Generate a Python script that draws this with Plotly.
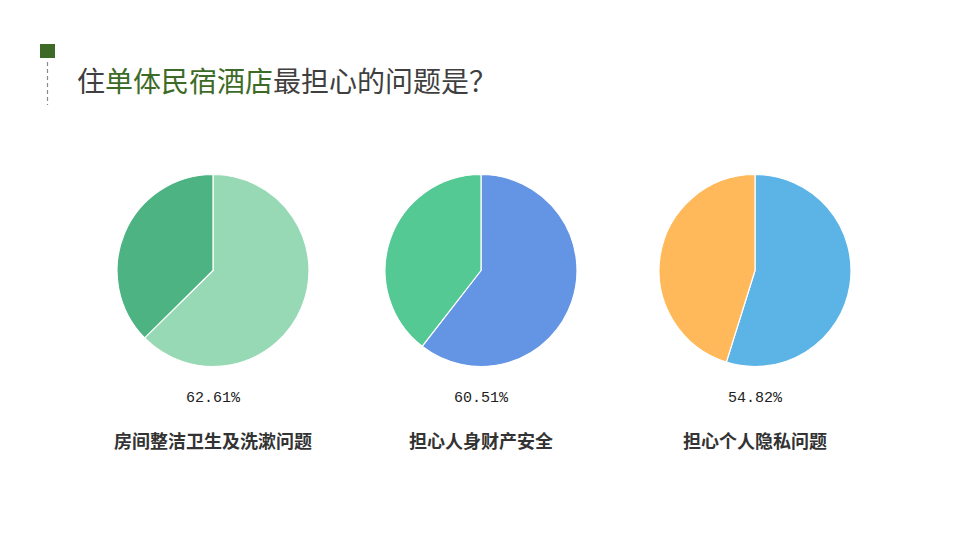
import plotly.graph_objects as go

# chart values
categories = ["房间整洁卫生及洗漱问题", "担心人身财产安全", "担心个人隐私问题"]
shares = [62.61, 60.51, 54.82]
main_colors = ["#98D9B5", "#6395E4", "#5BB4E5"]
rest_colors = ["#4DB383", "#55C994", "#FFB95A"]

W, H = 960, 540
OFF = 8  # page body margin


def px(x):
    return (x - OFF) / W


def py(y):
    return 1 - (y - OFF) / H


centers_x = [213, 481, 755]
r = 96
cy = 270.5

fig = go.Figure()

for i, (cat, v) in enumerate(zip(categories, shares)):
    cx = centers_x[i]
    fig.add_trace(go.Pie(
        values=[v, round(100 - v, 2)],
        labels=[cat, "其他"],
        sort=False,
        direction="clockwise",
        rotation=0,
        textinfo="none",
        hoverinfo="label+percent",
        marker=dict(colors=[main_colors[i], rest_colors[i]],
                    line=dict(color="white", width=1.2)),
        domain=dict(x=[px(cx - r), px(cx + r)],
                    y=[py(cy + r), py(cy - r)]),
        showlegend=False,
    ))
    fig.add_annotation(x=px(cx), y=py(398), xref="paper", yref="paper",
                       xanchor="center", yanchor="middle",
                       text="%.2f%%" % v, showarrow=False,
                       font=dict(family="Liberation Mono", size=15, color="#222222"))
    fig.add_annotation(x=px(cx), y=py(440), xref="paper", yref="paper",
                       xanchor="center", yanchor="middle",
                       text="<b>%s</b>" % cat, showarrow=False,
                       font=dict(family="Noto Sans CJK SC", size=18, color="#333333"))

# title
fig.add_annotation(x=px(75), y=py(80), xref="paper", yref="paper",
                   xanchor="left", yanchor="middle",
                   text="住<span style='color:#3D6B27'>单体民宿酒店</span>最担心的问题是？",
                   showarrow=False,
                   font=dict(family="Noto Sans CJK SC", size=28, color="#3F3F3F"))

# decoration: square and dashed line
fig.add_shape(type="rect", xref="paper", yref="paper",
              x0=px(40), x1=px(55), y0=py(58), y1=py(44),
              fillcolor="#3D6B27", line=dict(width=0))
fig.add_shape(type="line", xref="paper", yref="paper",
              x0=px(47.5), x1=px(47.5), y0=py(62), y1=py(105),
              line=dict(color="#8A8A8A", width=1.2, dash="4px,3px"))

fig.update_layout(
    width=W, height=H,
    margin=dict(l=0, r=0, t=0, b=0),
    paper_bgcolor="white",
    plot_bgcolor="white",
)

fig.write_html("out.html")
